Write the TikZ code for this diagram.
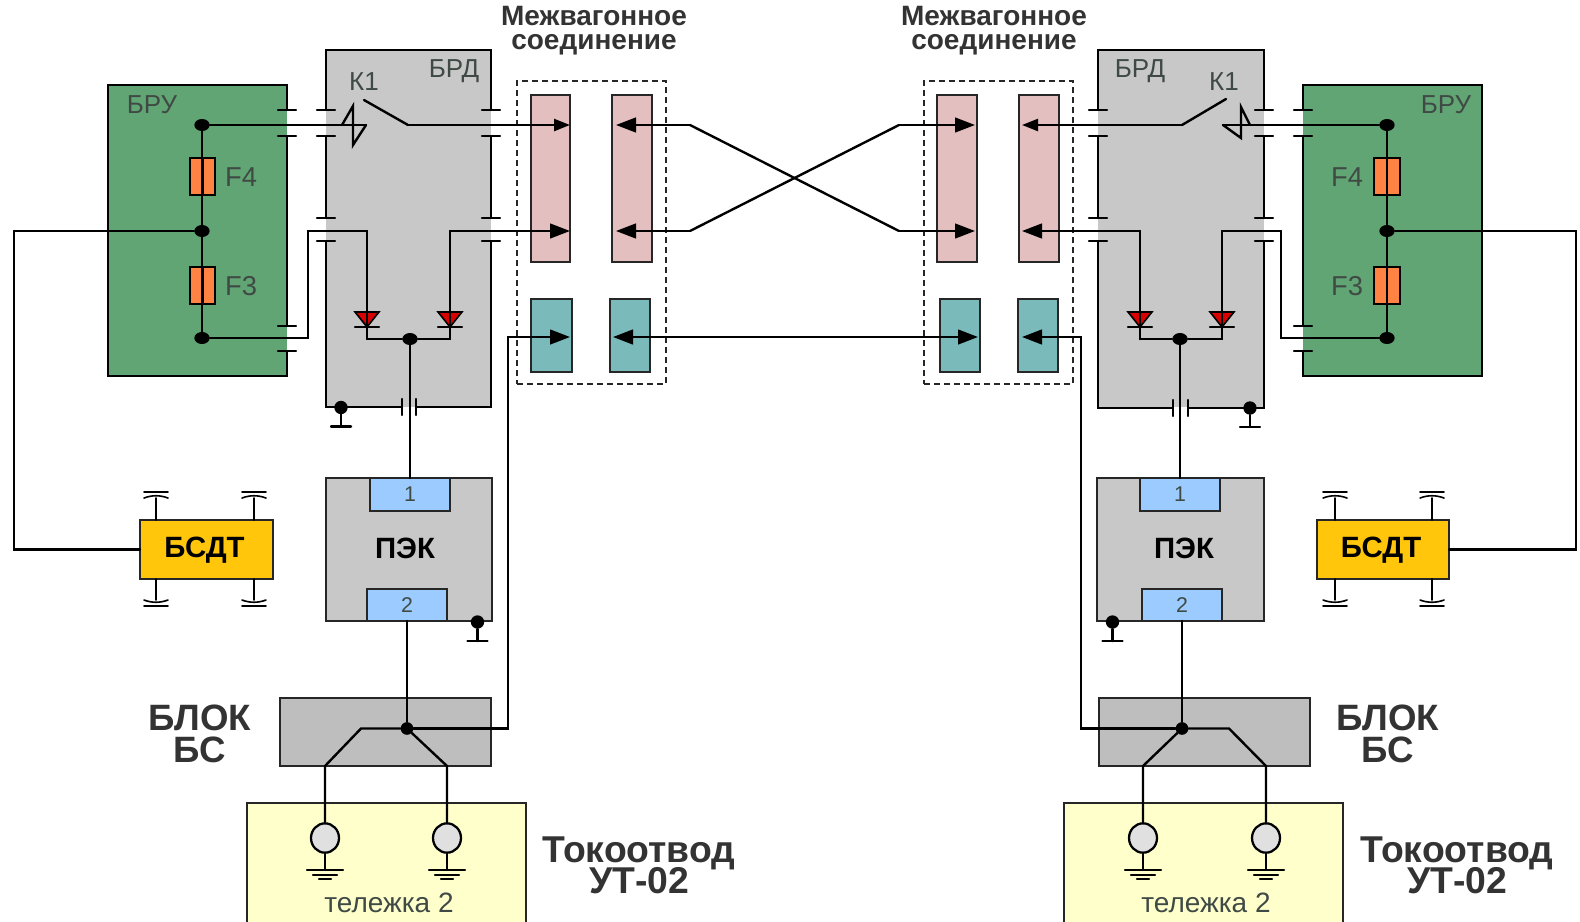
\documentclass[tikz,border=0pt]{standalone}
\usepackage{fontspec}
\setmainfont{Liberation Sans}
\usetikzlibrary{arrows.meta,shapes.geometric}
\definecolor{bruG}{HTML}{62A574}
\definecolor{brdG}{HTML}{C8C8C8}
\definecolor{roseC}{HTML}{E3BFBF}
\definecolor{tealC}{HTML}{7ABABA}
\definecolor{fuseC}{HTML}{FF8342}
\definecolor{blueC}{HTML}{9CCBFF}
\definecolor{yelC}{HTML}{FFFFCC}
\definecolor{bsdtC}{HTML}{FFC60B}
\definecolor{bsC}{HTML}{BEBEBE}
\definecolor{txtC}{HTML}{333333}
\definecolor{lblC}{HTML}{3F4A45}
\newcommand\fs[1]{\fontsize{#1}{#1}\selectfont}
\newcommand\bx[6]{%
  \pgfmathsetmacro\bw{(#5-#3)*.75}\pgfmathsetmacro\bh{(#6-#4)*.75}%
  \node[#2,minimum width=\bw pt,minimum height=\bh pt] (#1) at ({(#3+#5)/2},{(#4+#6)/2}) {};}
\newcommand\tk[2]{\draw[wire] ({#1-9},#2) -- ({#1+9},#2);}
\newcommand\gnd[3]{% dot node name, x, y
  \node[dotm,minimum width=10pt,minimum height=10pt] (#1) at (#2,#3) {};
  \coordinate (#1s) at (#2,{#3+19});
  \draw[wire] (#1) -- (#1s);
  \draw[wire] ({#2-10},{#3+19}) -- ({#2+10},{#3+19});}
\newcommand\wheel[3]{% x, bar y (outer), direction
  \draw[wire,line width=1.2pt] ({#1-12},#2) -- ({#1+12},#2);
  \draw[wire,line width=1.2pt] ({#1-12},{#2+#3*6}) .. controls ({#1-4},{#2+#3*3}) and ({#1+4},{#2+#3*3}) .. ({#1+12},{#2+#3*6});}
\newcommand\earth[2]{%
  \draw[wire] ({#1-18},#2) -- ({#1+18},#2);
  \draw[wire] ({#1-12},{#2+5}) -- ({#1+12},{#2+5});
  \draw[wire] ({#1-6},{#2+9}) -- ({#1+6},{#2+9});}
\tikzset{
  x=.75pt,y=-.75pt,
  wire/.style={line width=1.8pt,draw=black,line cap=round,line join=miter},
  arr/.style={wire,-{Triangle[length=15pt,width=11pt]}},
  arrs/.style={wire,-{Triangle[length=12pt,width=9pt]}},
  plain/.style={inner sep=0,outer sep=0},
  fillonly/.style={plain,fill=#1},
  box/.style={plain,fill=#1,draw=black!85,line width=2pt},
  fuse/.style={plain,fill=fuseC,draw=black,line width=1.8pt},
  dotm/.style={ellipse,fill=black,inner sep=0,minimum width=11.5pt,minimum height=9pt},
  dots/.style={ellipse,fill=black,inner sep=0,minimum width=9.5pt,minimum height=9.5pt},
  dbox/.style={plain,draw=black!85,line width=1.3pt,dash pattern=on 4.5pt off 3pt},
  tr/.style={inner sep=0,text=lblC,font=\fs{19.5}},
  hd/.style={inner sep=0,text=txtC,font=\bfseries\fs{21},align=center},
  big/.style={inner sep=0,text=txtC,font=\bfseries\fs{27.5},align=center},
  mid/.style={inner sep=0,text=black,font=\bfseries\fs{22}},
  wheelc/.style={ellipse,fill=black!12,draw=black,line width=1.7pt,inner sep=0,minimum width=21pt,minimum height=22pt},
  diode/.style={fill=red!85!black,draw=black,line width=1.2pt,line join=miter}
}
\begin{document}
\begin{tikzpicture}
\useasboundingbox (0,0) rectangle (1580,921);
% ---------- fills
\bx{bruL}{fillonly=bruG}{108}{85}{287}{376}
\bx{brdL}{fillonly=brdG}{326}{50}{491}{407}
\bx{bruR}{fillonly=bruG}{1303}{85}{1482}{376}
\bx{brdR}{fillonly=brdG}{1098}{50}{1264}{407}
% ---------- BRU left outline
\draw[wire] (287,110) -- (287,85) -- (108,85) -- (108,376) -- (287,376) -- (287,351);
\draw[wire] (287,136) -- (287,326);
\tk{287}{110}\tk{287}{136}\tk{287}{326}\tk{287}{351}
% BRD left outline
\draw[wire] (326,110) -- (326,50) -- (491,50) -- (491,110);
\draw[wire] (326,136) -- (326,218);
\draw[wire] (491,136) -- (491,218);
\draw[wire] (326,241) -- (326,407) -- (402,407);
\draw[wire] (491,241) -- (491,407) -- (416,407);
\draw[wire] (402,399) -- (402,415);
\draw[wire] (416,399) -- (416,415);
\tk{326}{110}\tk{326}{136}\tk{326}{218}\tk{326}{241}
\tk{491}{110}\tk{491}{136}\tk{491}{218}\tk{491}{241}
% ---------- BRU right outline
\draw[wire] (1303,110) -- (1303,85) -- (1482,85) -- (1482,376) -- (1303,376) -- (1303,351);
\draw[wire] (1303,136) -- (1303,326);
\tk{1303}{110}\tk{1303}{136}\tk{1303}{326}\tk{1303}{351}
% BRD right outline
\draw[wire] (1098,110) -- (1098,50) -- (1264,50) -- (1264,110);
\draw[wire] (1098,136) -- (1098,218);
\draw[wire] (1264,136) -- (1264,218);
\draw[wire] (1098,241) -- (1098,408) -- (1173,408);
\draw[wire] (1264,241) -- (1264,408) -- (1188,408);
\draw[wire] (1173,400) -- (1173,416);
\draw[wire] (1188,400) -- (1188,416);
\tk{1098}{110}\tk{1098}{136}\tk{1098}{218}\tk{1098}{241}
\tk{1264}{110}\tk{1264}{136}\tk{1264}{218}\tk{1264}{241}
% ---------- labels of the blocks
\node[tr] (tBruL) at (152,105) {БРУ};
\node[tr] (tBrdL) at (454,71) {БРД};
\node[tr] (tK1L) at (364,82) {К1};
\node[tr,font=\fs{20.5}] (tF4L) at (241,177) {F4};
\node[tr,font=\fs{20.5}] (tF3L) at (241,286) {F3};
\node[tr] (tBruR) at (1446,105) {БРУ};
\node[tr] (tBrdR) at (1140,71) {БРД};
\node[tr] (tK1R) at (1224,82) {К1};
\node[tr,font=\fs{20.5}] (tF4R) at (1347,177) {F4};
\node[tr,font=\fs{20.5}] (tF3R) at (1347,286) {F3};
\node[hd] (tMvL) at (594,31) {Межвагонное\\[-3pt]соединение};
\node[hd] (tMvR) at (994,31) {Межвагонное\\[-3pt]соединение};
% ---------- connector boxes
\bx{dL}{dbox}{517}{81}{666}{384}
\bx{dR}{dbox}{924}{81}{1073}{384}
\bx{r1}{box=roseC}{531}{95}{570}{262}
\bx{r2}{box=roseC}{612}{95}{652}{262}
\bx{t1}{box=tealC}{531}{299}{572}{372}
\bx{t2}{box=tealC}{610}{299}{650}{372}
\bx{r3}{box=roseC}{937}{95}{977}{262}
\bx{r4}{box=roseC}{1019}{95}{1059}{262}
\bx{t3}{box=tealC}{940}{299}{980}{372}
\bx{t4}{box=tealC}{1018}{299}{1058}{372}
% ---------- junctions
\node[dotm] (aL) at (202,125) {};
\node[dotm] (bL) at (202,231) {};
\node[dotm] (cL) at (202,338) {};
\node[dotm] (mL) at (410,339) {};
\node[dotm] (aR) at (1387,125) {};
\node[dotm] (bR) at (1387,231) {};
\node[dotm] (cR) at (1387,338) {};
\node[dotm] (mR) at (1180,339) {};
% ---------- fuses
\draw[wire] (aL) -- (bL) -- (cL);
\draw[wire] (aR) -- (bR) -- (cR);
\bx{f4L}{fuse}{190}{158}{215}{195}
\bx{f3L}{fuse}{190}{267}{215}{304}
\bx{f4R}{fuse}{1374}{158}{1400}{195}
\bx{f3R}{fuse}{1374}{267}{1400}{304}
\draw[wire] (f4L.north) -- (f4L.south);
\draw[wire] (f3L.north) -- (f3L.south);
\draw[wire] (f4R.north) -- (f4R.south);
\draw[wire] (f3R.north) -- (f3R.south);
% ---------- lower blocks
\bx{pekL}{box=brdG}{326}{478}{492}{621}
\bx{p1L}{box=blueC}{370}{478}{450}{511}
\bx{p2L}{box=blueC}{367}{589}{447}{621}
\bx{pekR}{box=brdG}{1097}{478}{1264}{621}
\bx{p1R}{box=blueC}{1140}{478}{1220}{511}
\bx{p2R}{box=blueC}{1142}{589}{1222}{621}
\node[tr,font=\fs{16}] (n1L) at (p1L) {1};
\node[tr,font=\fs{16}] (n2L) at (p2L) {2};
\node[tr,font=\fs{16}] (n1R) at (p1R) {1};
\node[tr,font=\fs{16}] (n2R) at (p2R) {2};
\node[mid] (tPekL) at (405,548) {ПЭК};
\node[mid] (tPekR) at (1184,548) {ПЭК};
\bx{bsdtL}{box=bsdtC}{140}{520}{273}{579}
\bx{bsdtR}{box=bsdtC}{1317}{520}{1449}{579}
\node[mid] (tBsL) at (204.5,550) {БСДТ};
\node[mid] (tBsR) at (1381,550) {БСДТ};
\bx{bsL}{box=bsC}{280}{698}{491}{766}
\bx{bsR}{box=bsC}{1099}{698}{1310}{766}
\bx{yL}{box=yelC}{247}{803}{526}{925}
\bx{yR}{box=yelC}{1064}{803}{1343}{925}
\node[tr,font=\fs{21}] (tTL) at (389,903) {тележка 2};
\node[tr,font=\fs{21}] (tTR) at (1206,903) {тележка 2};
\node[big] (tBlL) at (200,734) {БЛОК\\[-3.3pt]БС};
\node[big] (tBlR) at (1388,734) {БЛОК\\[-3.3pt]БС};
\node[big,font=\bfseries\fs{28}] (tToL) at (639,865) {Токоотвод\\[-5pt]УТ-02};
\node[big,font=\bfseries\fs{28}] (tToR) at (1457,865) {Токоотвод\\[-5pt]УТ-02};
% ---------- stubs and bars on BSDT
\draw[wire,line width=1.2pt] (156,498) -- (156,520) (254,498) -- (254,520) (156,579) -- (156,600) (254,579) -- (254,600);
\wheel{156}{492}{1}\wheel{254}{492}{1}\wheel{156}{606}{-1}\wheel{254}{606}{-1}
\draw[wire,line width=1.2pt] (1335,498) -- (1335,520) (1432,498) -- (1432,520) (1335,579) -- (1335,600) (1432,579) -- (1432,600);
\wheel{1335}{492}{1}\wheel{1432}{492}{1}\wheel{1335}{606}{-1}\wheel{1432}{606}{-1}
% ---------- free-end coordinates
\coordinate (swAL) at (408,125);
\coordinate (swBL) at (364,100);
\coordinate (tipA) at (570,125);
\coordinate (tipB) at (570,231);
\coordinate (tipC) at (570,337);
\coordinate (tipD) at (616,125);
\coordinate (tipE) at (616,231);
\coordinate (tipF) at (613,337);
\coordinate (crA) at (690,125);
\coordinate (crB) at (690,231);
\coordinate (crC) at (899,125);
\coordinate (crD) at (899,231);
\coordinate (lnk) at (795,337);
\coordinate (tipG) at (975,125);
\coordinate (tipH) at (975,231);
\coordinate (tipI) at (978,337);
\coordinate (tipJ) at (1022,125);
\coordinate (tipK) at (1022,231);
\coordinate (tipL) at (1022,337);
\coordinate (swAR) at (1182,125);
\coordinate (swBR) at (1226,99);
% top wire with trip symbol, left
\draw[wire] (aL) -- (366,125);
\draw[wire] (342,125) -- (353,106) -- (353,145) -- (366,125);
\draw[wire] (swBL) -- (swAL);
\draw[arrs] (swAL) -- (tipA);
% diodes left
\draw[wire] (cL) -- (308,338) -- (308,231) -- (367,231) -- (367,327);
\coordinate (dAL) at (367,339);
\coordinate (dBL) at (450,339);
\draw[wire] (dAL) -- (367,327);
\draw[wire] (dBL) -- (450,231);
\draw[arr] (450,231) -- (tipB);
\draw[diode] (355,312) -- (379,312) -- (367,327) -- cycle;
\draw[diode] (438,312) -- (462,312) -- (450,327) -- cycle;
\draw[wire] (355,327) -- (379,327) (438,327) -- (462,327);
\draw[wire] (367,312) -- (367,327) (450,312) -- (450,327);
\draw[wire] (dAL) -- (mL) -- (dBL);
\draw[wire] (mL) -- (p1L.north);
\draw[wire] (bL) -- (14,231) |- (bsdtL.west);
% top wire right
\draw[wire] (aR) -- (1223,125);
\draw[wire] (1250,125) -- (1241,107) -- (1241,138) -- (1223,125);
\draw[wire] (swBR) -- (swAR);
\draw[arrs] (swAR) -- (tipJ);
% diodes right
\draw[wire] (cR) -- (1281,338) -- (1281,231) -- (1222,231) -- (1222,327);
\coordinate (dAR) at (1140,339);
\coordinate (dBR) at (1222,339);
\draw[wire] (dAR) -- (1140,231);
\draw[arr] (1140,231) -- (tipK);
\draw[wire] (dBR) -- (1222,327);
\draw[diode] (1128,312) -- (1152,312) -- (1140,327) -- cycle;
\draw[diode] (1210,312) -- (1234,312) -- (1222,327) -- cycle;
\draw[wire] (1128,327) -- (1152,327) (1210,327) -- (1234,327);
\draw[wire] (1140,312) -- (1140,327) (1222,312) -- (1222,327);
\draw[wire] (dAR) -- (mR) -- (dBR);
\draw[wire] (mR) -- (p1R.north);
\draw[wire] (bR) -- (1576,231) |- (bsdtR.east);
% grounds
\gnd{g1}{341}{407.5}
\gnd{g2}{1250}{408}
\gnd{g3}{477.5}{622}
\gnd{g4}{1112.5}{622}
% crossing links
\draw[arr] (crA) -- (tipD);
\draw[arr] (crB) -- (tipE);
\draw[wire] (crA) -- (crD);
\draw[wire] (crB) -- (crC);
\draw[arr] (crC) -- (tipG);
\draw[arr] (crD) -- (tipH);
\draw[arr] (lnk) -- (tipF);
\draw[arr] (lnk) -- (tipI);
% ---------- lower wiring
\node[dots] (sL) at (407,728.5) {};
\node[dots] (sR) at (1182,728.5) {};
\coordinate (dnAL) at (325,766);
\coordinate (dnBL) at (447,766);
\coordinate (dnAR) at (1143,766);
\coordinate (dnBR) at (1266,766);
\node[wheelc] (wAL) at (325,838) {};
\node[wheelc] (wBL) at (447,838) {};
\node[wheelc] (wAR) at (1143,838) {};
\node[wheelc] (wBR) at (1266,838) {};
\draw[wire] (p2L.south) -- (sL);
\draw[wire] (p2R.south) -- (sR);
\draw[wire] (sL) -- (361,728.5) -- (dnAL) -- (wAL);
\draw[wire] (sL) -- (dnBL) -- (wBL);
\draw[arr] (sL) -- (508,728.5) -- (508,337) -- (tipC);
\draw[wire] (sR) -- (dnAR) -- (wAR);
\draw[wire] (sR) -- (1229,728.5) -- (dnBR) -- (wBR);
\draw[arr] (sR) -- (1081,728.5) -- (1081,337) -- (tipL);
\draw[wire] (wAL) -- (325,870);
\draw[wire] (wBL) -- (447,870);
\draw[wire] (wAR) -- (1143,870);
\draw[wire] (wBR) -- (1266,870);
\earth{325}{870}\earth{447}{870}\earth{1143}{870}\earth{1266}{870}
\end{tikzpicture}
\end{document}
